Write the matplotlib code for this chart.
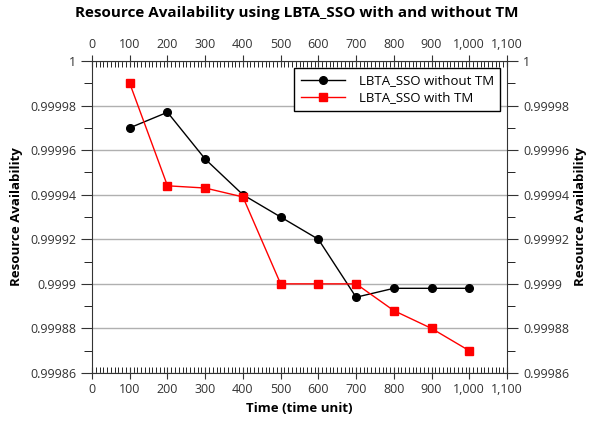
import matplotlib
matplotlib.use('Agg')
import matplotlib.pyplot as plt
from matplotlib.ticker import MultipleLocator, FuncFormatter

plt.rcParams['font.family'] = ['Open Sans', 'DejaVu Sans']

# data
time = [100, 200, 300, 400, 500, 600, 700, 800, 900, 1000]
without_tm = [0.99997, 0.999977, 0.999956, 0.99994, 0.99993, 0.99992,
              0.999894, 0.999898, 0.999898, 0.999898]
with_tm = [0.99999, 0.999944, 0.999943, 0.999939, 0.9999, 0.9999,
           0.9999, 0.999888, 0.99988, 0.99987]


def y_fmt(v, pos):
    return ('%.5f' % v).rstrip('0').rstrip('.')


def x_fmt(v, pos):
    return '{:,.0f}'.format(v)


fig = plt.figure(figsize=(5.93, 4.28), dpi=100)
ax = fig.add_axes([92 / 593, 1 - 373 / 428, 415 / 593, 312 / 428])

ax.plot(time, without_tm, color='black', marker='o', markersize=5.5, lw=1,
        label='LBTA_SSO without TM', zorder=3)
ax.plot(time, with_tm, color='red', marker='s', markersize=6, lw=1,
        label='LBTA_SSO with TM', zorder=3)

ax.set_xlim(0, 1100)
ax.set_ylim(0.99986, 1.0)
ax.xaxis.set_major_locator(MultipleLocator(100))
ax.xaxis.set_minor_locator(MultipleLocator(10))
ax.yaxis.set_major_locator(MultipleLocator(0.00002))
ax.yaxis.set_minor_locator(MultipleLocator(0.00001))
ax.xaxis.set_major_formatter(FuncFormatter(x_fmt))
ax.yaxis.set_major_formatter(FuncFormatter(y_fmt))

ax.grid(axis='y', color='#b0b0b0', lw=1)
ax.set_axisbelow(True)

ax.tick_params(axis='x', which='major', direction='inout', length=8, top=True,
               labeltop=True, labelsize=9, colors='#333333', labelcolor='#333333')
ax.tick_params(axis='x', which='minor', direction='in', length=4, top=True)
ax.tick_params(axis='y', which='major', direction='out', length=8, right=True,
               labelright=True, labelsize=9, colors='#333333', labelcolor='#333333')
ax.tick_params(axis='y', which='minor', direction='out', length=6, right=True)
for s in ax.spines.values():
    s.set_color('#333333')

ax.set_xlabel('Time (time unit)', fontsize=9.5, fontweight='bold', labelpad=4)
ax.set_ylabel('Resource Availability', fontsize=9.5, fontweight='bold', labelpad=5)
ax2 = ax.secondary_yaxis('right')
ax2.set_yticks([])
ax2.spines['right'].set_visible(False)
ax2.set_ylabel('Resource Availability', fontsize=9.5, fontweight='bold', labelpad=48)

fig.suptitle('Resource Availability using LBTA_SSO with and without TM',
             fontsize=11, fontweight='bold', y=0.985)

leg = ax.legend(loc='upper right', fontsize=9.5, fancybox=False, framealpha=1,
                edgecolor='black', borderaxespad=0.5, handlelength=3.4,
                borderpad=0.5, labelspacing=0.3, handletextpad=1.0)
leg.get_frame().set_linewidth(1)

fig.savefig('out.png', dpi=100)
